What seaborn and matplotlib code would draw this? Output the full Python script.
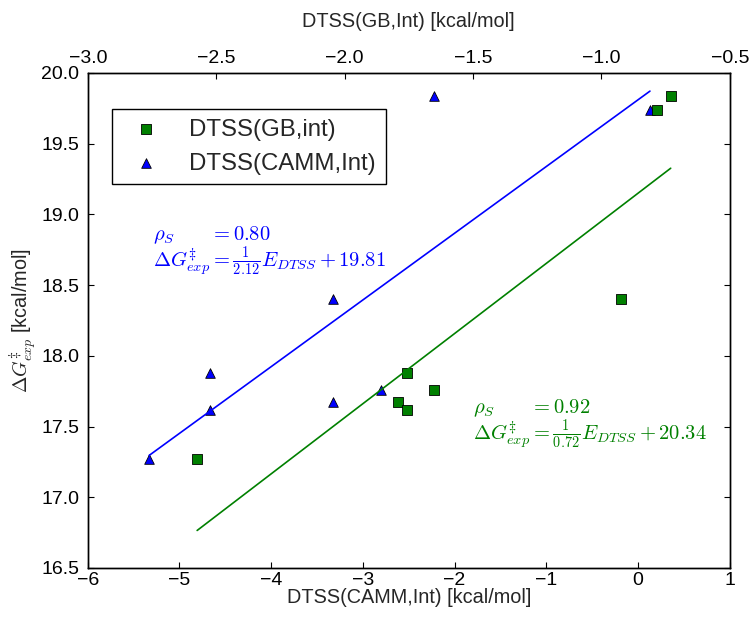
import numpy as np
import pandas as pd
import matplotlib
matplotlib.use("Agg")
import matplotlib.pyplot as plt
import seaborn as sns

# --- data ---
# DTSS(CAMM,Int) energies (bottom axis) vs experimental barrier
camm_x = [-5.33, -4.67, -4.67, -3.33, -3.33, -2.80, -2.22, 0.13]
camm_y = [17.27, 17.88, 17.62, 17.67, 18.40, 17.76, 19.84, 19.74]
# DTSS(GB,int) energies (top axis) vs experimental barrier
gb_x = [-2.574, -1.755, -1.790, -1.755, -1.651, -0.924, -0.785, -0.730]
gb_y = [17.27, 17.88, 17.67, 17.62, 17.76, 18.40, 19.74, 19.84]
# fit parameters printed on the chart
camm_rho, camm_denom, camm_icpt = 0.80, 2.12, 19.81
gb_rho, gb_denom, gb_icpt = 0.92, 0.72, 20.34

df_camm = pd.DataFrame({'E': camm_x, 'dG': camm_y})
df_gb = pd.DataFrame({'E': gb_x, 'dG': gb_y})

sns.set_theme(style="ticks", rc={
    'xtick.direction': 'in', 'ytick.direction': 'in',
    'xtick.major.size': 4.5, 'ytick.major.size': 4.5,
    'xtick.major.width': 0.8, 'ytick.major.width': 0.8,
    'axes.linewidth': 1.0, 'axes.edgecolor': 'black',
    'xtick.color': 'black', 'ytick.color': 'black',
    'mathtext.fontset': 'cm',
})
plt.rcParams['font.family'] = ['Liberation Sans', 'DejaVu Sans']

fig = plt.figure(figsize=(7.5, 6.18), dpi=100)
ax = fig.add_axes([0.117, 0.081, 0.856, 0.801])
ax2 = ax.twiny()

blue = (0, 0, 1)
green = (0, 0.5, 0)

sns.scatterplot(data=df_camm, x='E', y='dG', ax=ax, color=blue, marker='^',
                s=48, edgecolor='black', linewidth=0.6, label='DTSS(CAMM,Int)')
sns.scatterplot(data=df_gb, x='E', y='dG', ax=ax2, color=green, marker='s',
                s=45, edgecolor='black', linewidth=0.6, label='DTSS(GB,int)')
for a in (ax, ax2):
    if a.get_legend() is not None:
        a.get_legend().remove()

# regression lines over each data range
xc = np.array([min(camm_x), max(camm_x)])
ax.plot(xc, xc / camm_denom + camm_icpt, color=blue, lw=1.2)
xg = np.array([min(gb_x), max(gb_x)])
ax2.plot(xg, xg / gb_denom + gb_icpt, color=green, lw=1.2)

ax.set_xlim(-6, 1)
ax.set_ylim(16.5, 20.0)
ax2.set_xlim(-3.0, -0.5)
ax.set_xticks(np.arange(-6, 2, 1))
ax.set_yticks(np.arange(16.5, 20.01, 0.5))
ax.set_yticklabels([f"{v:.1f}" for v in np.arange(16.5, 20.01, 0.5)])
ax2.set_xticks(np.arange(-3.0, -0.49, 0.5))
ax2.set_xticklabels([f"\u2212{abs(v):.1f}" for v in np.arange(-3.0, -0.49, 0.5)])
ax.tick_params(axis='y', labelsize=14, right=True, pad=6)
ax.tick_params(axis='x', labelsize=14, pad=3)
ax2.tick_params(axis='x', labelsize=14, pad=4.5)

ax.set_xlabel('DTSS(CAMM,Int) [kcal/mol]', fontsize=14.3, labelpad=-0.5)
ax2.set_xlabel('DTSS(GB,Int) [kcal/mol]', fontsize=14.3, labelpad=16.5)
ax.set_ylabel(r'$\Delta G^{\ddagger}_{exp}$ [kcal/mol]', fontsize=14.3, labelpad=2)

# fit annotations
fs = 14.8
ax.text(-5.29, 18.82, r'$\rho_S \qquad = %.2f$' % camm_rho, color=blue,
        fontsize=fs, va='baseline')
ax.text(-5.29, 18.63, r'$\Delta G^{\ddagger}_{exp} = \frac{1}{%.2f} E_{DTSS} + %.2f$'
        % (camm_denom, camm_icpt), color=blue, fontsize=fs, va='baseline')
ax.text(-1.80, 17.595, r'$\rho_S \qquad = %.2f$' % gb_rho, color=green,
        fontsize=fs, va='baseline')
ax.text(-1.80, 17.41, r'$\Delta G^{\ddagger}_{exp} = \frac{1}{%.2f} E_{DTSS} + %.2f$'
        % (gb_denom, gb_icpt), color=green, fontsize=fs, va='baseline')

h1, l1 = ax.get_legend_handles_labels()
h2, l2 = ax2.get_legend_handles_labels()
ax2.legend([h2[0], h1[0]], [l2[0], l1[0]], loc='upper left',
           bbox_to_anchor=(0.0385, 0.927), borderaxespad=0, fontsize=17.3,
           scatterpoints=1, fancybox=False, framealpha=1, edgecolor='black')

fig.savefig('out.png', dpi=100)
